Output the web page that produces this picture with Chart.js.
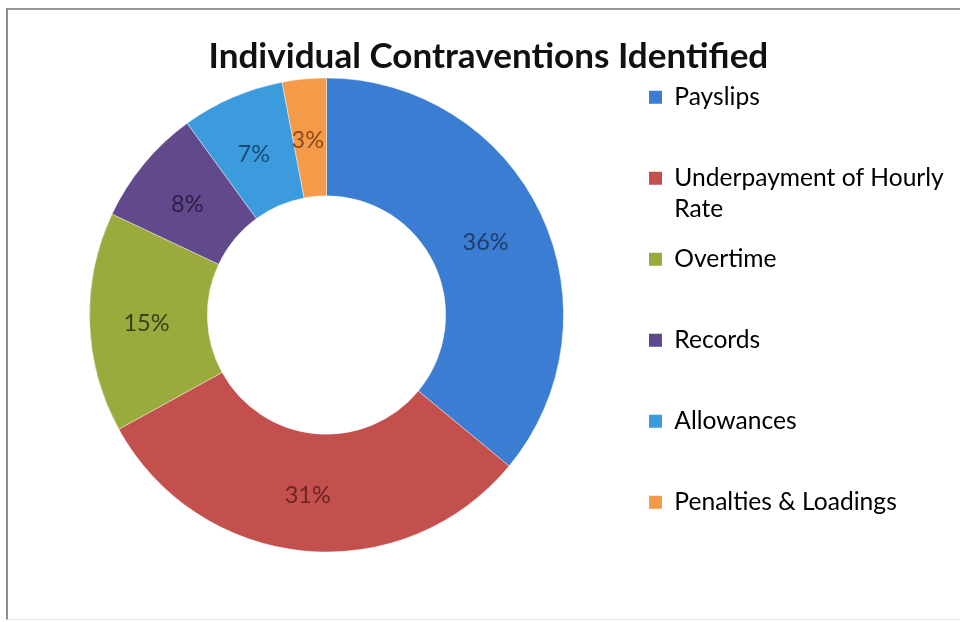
<!DOCTYPE html>
<html>
<head>
<meta charset="utf-8">
<script src="https://cdn.jsdelivr.net/npm/chart.js@4/dist/chart.umd.min.js"></script>
<style>
  html, body { margin: 0; padding: 0; background: #ffffff; }
  #wrap { position: relative; width: 960px; height: 622px; overflow: hidden; }
  #frame { position: absolute; left: 6px; top: 8px; width: 1000px; height: 609px;
           border-left: 2px solid #8e8e8e; border-top: 2px solid #9a9a9a; border-bottom: 1px solid #e4e4e4;
           pointer-events: none; }
  canvas { position: absolute; left: 0; top: 0; }
</style>
</head>
<body>
<div id="wrap">
  <canvas id="c" width="960" height="622"></canvas>
  <div id="frame"></div>
</div>
<script>
// ---- data ----
const chartTitle = 'Individual Contraventions Identified';
const categories = ['Payslips', 'Underpayment of Hourly Rate', 'Overtime', 'Records', 'Allowances', 'Penalties & Loadings'];
const percentages = [36, 31, 15, 8, 7, 3];
const sliceColors = ['#3A7DD3', '#C4504E', '#9BAA3C', '#62498C', '#3C9BDC', '#F59A48'];
const labelColors = ['#1F3D66', '#6B2524', '#3A4016', '#2B1F45', '#1B4C76', '#8C4A1E'];

// ---- helpers ----
const FAMILY = 'Lato, "Open Sans", sans-serif';
const measureCtx = document.createElement('canvas').getContext('2d');
function textWidth(txt, size, weight) {
  measureCtx.font = (weight ? weight + ' ' : '') + size + 'px ' + FAMILY;
  return measureCtx.measureText(txt).width;
}
function fitSize(txt, target, weight) {
  const w = textWidth(txt, 100, weight);
  return Math.round(100 * target / w * 10) / 10;
}
function wrap(txt, size, maxW) {
  const words = txt.split(' ');
  const lines = [];
  let cur = '';
  words.forEach(w => {
    const t = cur ? cur + ' ' + w : w;
    if (cur && textWidth(t, size) > maxW) { lines.push(cur); cur = w; } else { cur = t; }
  });
  lines.push(cur);
  return lines;
}

function build() {
  const titleSize = fitSize(chartTitle, 560, 'bold');
  const legendSize = fitSize('Underpayment of Hourly', 270);
  const labelSize = fitSize('36%', 46);

  const legendLines = categories.map(c => {
    const l = wrap(c, legendSize, 280);
    while (l.length < 2) l.push('');
    return l;
  });
  const longest = Math.max(...legendLines.map(l => textWidth(l.reduce((a, b) => a.length > b.length ? a : b), legendSize)));

  const legendPad = 19;
  const boxW = 13;
  const legendW = legendPad + boxW + legendSize / 2 + longest;
  const legendLeft = 649 - legendPad;
  const cx = 326.5;
  const areaLeft = 2 * cx - legendLeft;
  const rightPad = Math.max(0, 960 - legendLeft - legendW);

  const titleLH = titleSize * 1.2;
  const titleMid = 57;
  const areaTop = 59;
  const padTop = titleMid - titleLH / 2;
  const padBottom = areaTop - padTop - titleLH;
  const areaBottom = 630 - areaTop;

  const dataLabels = {
    id: 'dataLabels',
    afterDatasetsDraw(chart) {
      const ctx = chart.ctx;
      const meta = chart.getDatasetMeta(0);
      ctx.save();
      ctx.font = labelSize + 'px ' + FAMILY;
      ctx.textAlign = 'center';
      ctx.textBaseline = 'middle';
      meta.data.forEach((arc, i) => {
        const p = arc.tooltipPosition();
        ctx.fillStyle = labelColors[i];
        ctx.fillText(percentages[i] + '%', p.x - 2, p.y + 3);
      });
      ctx.restore();
    }
  };

  const chart = new Chart(document.getElementById('c'), {
    type: 'doughnut',
    data: {
      labels: categories,
      datasets: [{
        data: percentages,
        backgroundColor: sliceColors,
        borderColor: 'rgba(255,255,255,0.4)',
        borderWidth: 1,
        radius: 237,
        cutout: '50.3%'
      }]
    },
    options: {
      responsive: false,
      animation: false,
      events: [],
      layout: { padding: { left: areaLeft, right: rightPad, top: 0, bottom: 622 - areaBottom } },
      plugins: {
        tooltip: { enabled: false },
        title: {
          display: true,
          text: chartTitle,
          color: '#111111',
          font: { family: FAMILY, size: titleSize, weight: 'bold', lineHeight: 1.2 },
          padding: { top: padTop, bottom: padBottom }
        },
        legend: {
          display: true,
          position: 'right',
          align: 'end',
          labels: {
            color: '#1a1a1a',
            boxWidth: boxW,
            boxHeight: boxW,
            padding: legendPad,
            font: { family: FAMILY, size: legendSize, lineHeight: '31px' },
            generateLabels() {
              return legendLines.map((lines, i) => ({
                text: lines,
                fillStyle: sliceColors[i],
                strokeStyle: sliceColors[i],
                lineWidth: 0,
                hidden: false,
                index: i
              }));
            }
          }
        }
      }
    },
    plugins: [dataLabels]
  });

  // second pass: put the legend (and so the chart area edge) where the reference has it
  const dx = chart.legend.left - legendLeft;
  if (Math.abs(dx) > 0.5) {
    chart.options.layout.padding.right = rightPad + dx;
    chart.update('none');
  }
}

Promise.all([
  document.fonts.load('24px Lato'),
  document.fonts.load('bold 30px Lato')
]).catch(() => {}).then(build);
</script>
</body>
</html>
